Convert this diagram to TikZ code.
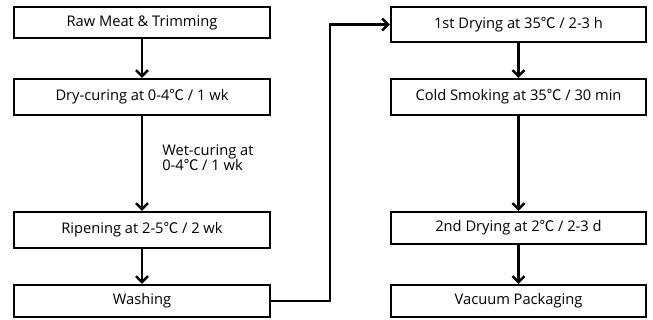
\documentclass[tikz,border=0pt]{standalone}
\usepackage{fontspec}
\setmainfont{Open Sans}
\newfontfamily\symfont{Noto Sans CJK KR}
\newcommand{\degC}{{\symfont ℃}}
\usetikzlibrary{arrows.meta}
\begin{document}
\begin{tikzpicture}[x=0.75pt,y=-0.75pt,
  box/.style={draw, line width=1.7pt, inner sep=0pt, font=\fontsize{11pt}{12pt}\selectfont},
  lbox/.style={box, minimum width=192pt},
  rbox/.style={box, minimum width=191.25pt},
  arr/.style={line width=1.7pt, -{Straight Barb[length=4.5pt,width=9pt,line width=1.8pt]}},
  lbl/.style={inner sep=0pt, align=left, anchor=west, font=\fontsize{11pt}{11.5pt}\selectfont}]
\useasboundingbox (0,0) rectangle (653,320);
% left column
\node[lbox, minimum height=23.25pt] (L1) at (142,22.5) {Raw Meat \& Trimming};
\node[lbox, minimum height=27pt] (L2) at (142,97) {Dry-curing at 0-4\degC{} / 1 wk};
\node[lbox, minimum height=27pt] (L3) at (142,230) {Ripening at 2-5\degC{} / 2 wk};
\node[lbox, minimum height=24pt] (L4) at (142,301) {Washing};
% right column
\node[rbox, minimum height=26.25pt] (R1) at (518.5,24.5) {1st Drying at 35\degC{} / 2-3 h};
\node[rbox, minimum height=27pt] (R2) at (518.5,97) {Cold Smoking at 35\degC{} / 30 min};
\node[rbox, minimum height=24pt] (R3) at (518.5,228) {2nd Drying at 2\degC{} / 2-3 d};
\node[rbox, minimum height=24pt] (R4) at (518.5,301) {Vacuum Packaging};
% label
\node[lbl] (wet) at (162,157.5) {Wet-curing at\\0-4\degC{} / 1 wk};
% arrows
\draw[arr] (L1) -- (L2);
\draw[arr] (L2) -- (L3);
\draw[arr] (L3) -- (L4);
\draw[arr] (R1) -- (R2);
\draw[arr] (R2) -- (R3);
\draw[arr] (R3) -- (R4);
\coordinate (bend) at (330,0);
\draw[arr] (L4.east) -- (L4.east -| bend) -- (R1.west -| bend) -- (R1.west);
\end{tikzpicture}
\end{document}
